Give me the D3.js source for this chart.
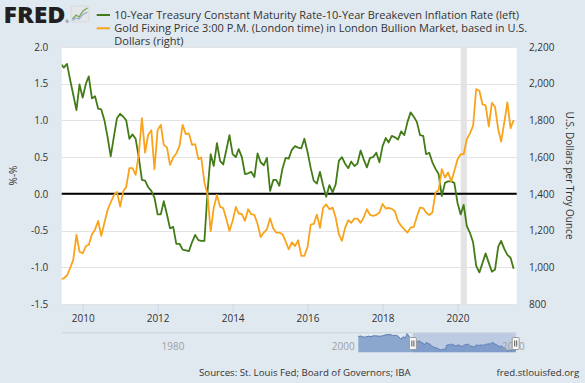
<!DOCTYPE html>
<html><head><meta charset="utf-8">
<script src="https://cdn.jsdelivr.net/npm/d3@7"></script>
<style>
html,body{margin:0;padding:0;background:#e1e9f0;}
svg{display:block;font-family:"Open Sans",sans-serif;}
</style></head><body>
<svg id="c" width="585" height="383"></svg>
<script>
// ---------- DATA ----------
const firstMonth = [2009, 5]; // June 2009 (year, zero-based month)
const realYield = [
 1.77,1.72,1.77,1.55,1.35,1.14,1.49,1.31,1.50,1.60,1.30,1.33,1.16,1.15,1.00,0.77,0.51,0.78,1.03,1.09,
 1.05,1.00,0.75,0.81,0.75,0.50,0.19,0.18,0.09,0.04,-0.05,-0.28,-0.28,-0.10,-0.28,-0.47,-0.45,-0.68,-0.68,-0.76,
 -0.77,-0.78,-0.66,-0.56,-0.63,-0.64,-0.64,0.02,0.54,0.38,0.69,0.45,0.40,0.60,0.80,0.54,0.50,0.61,0.50,0.27,
 0.28,0.30,0.23,0.55,0.43,0.39,0.49,0.04,0.19,0.19,0.11,0.34,0.49,0.48,0.60,0.65,0.63,0.62,0.75,0.57,
 0.35,0.18,0.14,0.30,0.11,-0.04,0.12,0.02,0.13,0.45,0.50,0.41,0.35,0.44,0.38,0.41,0.59,0.47,0.36,0.49,
 0.50,0.56,0.43,0.65,0.76,0.70,0.79,0.77,0.74,0.85,0.80,0.98,1.11,1.05,0.98,0.80,0.79,0.54,0.56,0.43,
 0.34,0.27,-0.03,0.15,0.17,0.17,0.15,-0.12,-0.28,-0.15,-0.44,-0.53,-0.66,-0.98,-1.07,-0.94,-0.81,-0.94,-1.06,-1.03,
 -0.72,-0.64,-0.75,-0.83,-0.87,-1.02
];
const goldPrice = [
 935,940,955,996,1040,1176,1085,1076,1116,1122,1180,1205,1253,1171,1244,1313,1353,1393,1411,1331,
 1416,1438,1540,1540,1504,1616,1813,1625,1722,1747,1534,1747,1776,1667,1653,1558,1598,1620,1660,1776,
 1725,1729,1667,1671,1589,1598,1462,1398,1196,1325,1394,1329,1322,1262,1198,1253,1329,1293,1289,1253,
 1316,1289,1285,1236,1165,1189,1207,1267,1211,1189,1189,1180,1142,1098,1136,1115,1147,1062,1062,1111,
 1233,1236,1287,1215,1325,1342,1316,1325,1271,1180,1144,1216,1256,1242,1265,1265,1242,1271,1316,1285,
 1280,1285,1298,1345,1320,1324,1318,1305,1251,1225,1207,1189,1216,1220,1275,1325,1322,1298,1285,1298,
 1407,1420,1535,1489,1516,1467,1524,1587,1616,1616,1698,1729,1771,1971,1962,1887,1882,1767,1896,1873,
 1751,1685,1789,1898,1758,1802
];
// navigator: quarterly history of the left series before the chart window (from Jan 2003)
const navFirstQuarter = [2003, 0];
const navEarly = [2.63,2.80,2.60,2.50,2.65,2.75,2.63,2.85,2.85,2.80,2.75,2.80,2.95,3.10,3.15,3.20,
 2.95,2.95,3.00,2.60,1.95,2.60,2.30,3.40,2.50,2.00];
const leftTicks = [-1.5,-1.0,-0.5,0.0,0.5,1.0,1.5,2.0];
const rightTicks = [800,1000,1200,1400,1600,1800,2000,2200];
const xTickYears = [2010,2012,2014,2016,2018,2020];
const navLabelYears = [1980,2000,2020];
const recession = [[2020,1],[2020,3]];
const legendLines = [
 ["10-Year Treasury Constant Maturity Rate-10-Year Breakeven Inflation Rate (left)"],
 ["Gold Fixing Price 3:00 P.M. (London time) in London Bullion Market, based in U.S.","Dollars (right)"]
];
const seriesColors = ["#437c17","#f9a31b"];
const leftTitle = "%-%";
const rightTitle = "U.S. Dollars per Troy Ounce";
const sourceText = "Sources: St. Louis Fed; Board of Governors; IBA";
const siteText = "fred.stlouisfed.org";

// ---------- LAYOUT ----------
const L = 61.7, R = 516.7, T = 47, B = 304;
const svg = d3.select("#c");
const dates = realYield.map((_, i) => new Date(firstMonth[0], firstMonth[1] + i, 1));

const x = d3.scaleTime().domain([new Date(2010,0,1), new Date(2020,0,1)]).range([82.7, 457.5]);
const yL = d3.scaleLinear().domain([-1.5, 2.0]).range([B, T]);
const yR = d3.scaleLinear().domain([800, 2200]).range([B, T]);

svg.append("rect").attr("width",585).attr("height",383).attr("fill","#e1e9f0");
svg.append("rect").attr("x",L).attr("y",T).attr("width",R-L).attr("height",B-T).attr("fill","#fff");

svg.append("defs").append("clipPath").attr("id","pc")
  .append("rect").attr("x",L).attr("y",T-2).attr("width",R-L).attr("height",B-T+4);

// recession band
svg.append("rect")
  .attr("x", x(new Date(...recession[0],1)))
  .attr("width", x(new Date(...recession[1],1)) - x(new Date(...recession[0],1)))
  .attr("y", T).attr("height", B-T).attr("fill","#e3e3e3");

// gridlines
svg.append("g").selectAll("line").data(leftTicks).join("line")
  .attr("x1",L).attr("x2",R)
  .attr("y1",d=>Math.round(yL(d))+0.5).attr("y2",d=>Math.round(yL(d))+0.5)
  .attr("stroke","#e3e3e3").attr("stroke-width",1);

// zero line
svg.append("line").attr("x1",L).attr("x2",R).attr("y1",yL(0)).attr("y2",yL(0))
  .attr("stroke","#000").attr("stroke-width",2);

// axes
const fs = "10px";
const axL = svg.append("g").attr("transform",`translate(${L},0)`)
  .call(d3.axisLeft(yL).tickValues(leftTicks).tickFormat(d=>d.toFixed(1)).tickSize(0).tickPadding(13.4));
axL.select(".domain").remove();
axL.selectAll("text").attr("fill","#333").style("font-size",fs).style("font-family","Open Sans");

const axR = svg.append("g").attr("transform",`translate(${R},0)`)
  .call(d3.axisRight(yR).tickValues(rightTicks).tickFormat(d3.format(",")).tickSize(0).tickPadding(12.3));
axR.select(".domain").remove();
axR.selectAll("text").attr("fill","#333").style("font-size",fs).style("font-family","Open Sans");

const axB = svg.append("g").attr("transform",`translate(0,${B})`)
  .call(d3.axisBottom(x).tickValues(xTickYears.map(y=>new Date(y,0,1))).tickFormat(d3.timeFormat("%Y")).tickSize(9).tickPadding(2));
axB.select(".domain").remove();
axB.selectAll("line").attr("stroke","#ccd6eb");
axB.selectAll("text").attr("fill","#333").style("font-size",fs).style("font-family","Open Sans");

// series
const lineL = d3.line().x((d,i)=>x(dates[i])).y(d=>yL(d));
const lineR = d3.line().x((d,i)=>x(dates[i])).y(d=>yR(d));
const gS = svg.append("g").attr("clip-path","url(#pc)");
gS.append("path").datum(realYield).attr("d",lineL).attr("fill","none")
  .attr("stroke",seriesColors[0]).attr("stroke-width",1.8).attr("stroke-linejoin","round");
gS.append("path").datum(goldPrice).attr("d",lineR).attr("fill","none")
  .attr("stroke",seriesColors[1]).attr("stroke-width",1.8).attr("stroke-linejoin","round");

// axis titles
svg.append("text").attr("transform",`translate(17,${(T+B)/2}) rotate(-90)`)
  .attr("text-anchor","middle").attr("fill","#333").style("font-size","10px").text(leftTitle);
svg.append("text").attr("transform",`translate(566,${(T+B)/2}) rotate(90)`)
  .attr("text-anchor","middle").attr("fill","#333").style("font-size","10px").text(rightTitle);

// legend
const legY = [[15],[28.3,41.6]];
legendLines.forEach((lines,k)=>{
  svg.append("line").attr("x1",96.7).attr("x2",110).attr("y1",legY[k][0]).attr("y2",legY[k][0])
    .attr("stroke",seriesColors[k]).attr("stroke-width",2);
  lines.forEach((t,j)=>{
    svg.append("text").attr("x",114.3).attr("y",legY[k][j]+3.8).attr("fill","#333")
      .style("font-size","11px").text(t);
  });
});

// logo
svg.append("text").attr("x",3.5).attr("y",23).attr("fill","#231f20")
  .style("font-size","22px").style("font-weight","800").attr("textLength",62)
  .attr("lengthAdjust","spacingAndGlyphs").text("FRED");
svg.append("text").attr("x",65.5).attr("y",23).attr("fill","#231f20").style("font-size","4px").text("®");
const ic = svg.append("g").attr("transform","translate(71,6)");
ic.append("rect").attr("width",18).attr("height",16).attr("rx",1.5).attr("fill","#e4e6e8").attr("stroke","#c9cccf").attr("stroke-width",0.5);
ic.append("path").attr("d","M1.5,13 L5,9 L8,11 L12,5 L16.5,2").attr("fill","none").attr("stroke","#7aa55a").attr("stroke-width",1.3);
ic.append("path").attr("d","M1.5,14.5 L5,12 L8,13 L12,8.5 L16.5,6").attr("fill","none").attr("stroke","#8fa9cf").attr("stroke-width",1.1);

// footer
svg.append("text").attr("x",199).attr("y",375.5).attr("fill","#333").style("font-size","9.7px").text(sourceText);
svg.append("text").attr("x",579.3).attr("y",375.5).attr("text-anchor","end").attr("fill","#333").style("font-size","9.7px").text(siteText);

// ---------- NAVIGATOR ----------
const navTop = 332.3, navBot = 352.3;
const navDates = navEarly.map((_,i)=>new Date(navFirstQuarter[0], navFirstQuarter[1] + 3*i, 1)).concat(dates);
const navVals = navEarly.concat(realYield);
const nx = d3.scaleTime().domain([new Date(2003,0,1), new Date(2021,6,1)]).range([358.3, 515.7]);
const ny = d3.scaleLinear().domain([-1.4, 3.5]).range([navBot, navTop+1]);
svg.append("line").attr("x1",L).attr("x2",R).attr("y1",navTop+0.5).attr("y2",navTop+0.5)
  .attr("stroke","#cbd3dc").attr("stroke-width",1);
svg.append("path").datum(navVals)
  .attr("d", d3.area().x((d,i)=>nx(navDates[i])).y0(navBot).y1(d=>ny(d)))
  .attr("fill","#8ca7cd");
svg.append("path").datum(navVals)
  .attr("d", d3.line().x((d,i)=>nx(navDates[i])).y(d=>ny(d)))
  .attr("fill","none").attr("stroke","#5579b0").attr("stroke-width",1);
const selA = nx(dates[0]), selB = nx(dates[dates.length-1]);
svg.append("rect").attr("x",selA).attr("width",selB-selA).attr("y",navTop+1).attr("height",navBot-navTop-1)
  .attr("fill","rgba(102,133,194,0.3)");
svg.append("g").selectAll("text").data(navLabelYears).join("text")
  .attr("x",d=>nx(new Date(d,0,1))-1).attr("y",350.3).attr("fill","#a0a0a0")
  .style("font-size","10px").text(d=>d);
[selA, selB].forEach(hx=>{
  const g = svg.append("g").attr("transform",`translate(${hx},0)`);
  g.append("rect").attr("x",-3.5).attr("y",337.5).attr("width",7).attr("height",12).attr("rx",1)
    .attr("fill","#f7f7f7").attr("stroke","#999").attr("stroke-width",1);
  g.append("line").attr("x1",-1).attr("x2",-1).attr("y1",340.5).attr("y2",346.5).attr("stroke","#555");
  g.append("line").attr("x1",1).attr("x2",1).attr("y1",340.5).attr("y2",346.5).attr("stroke","#555");
});
</script>
</body></html>
